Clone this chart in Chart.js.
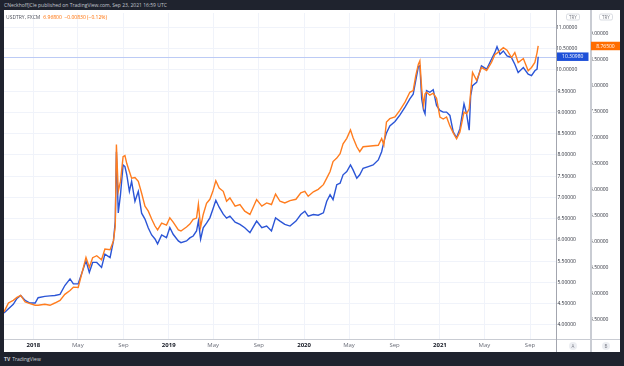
<!DOCTYPE html>
<html><head><meta charset="utf-8">
<script src="https://cdn.jsdelivr.net/npm/chart.js@4/dist/chart.umd.min.js"></script>
<style>
html,body{margin:0;padding:0;background:#1f232e;width:624px;height:366px;overflow:hidden;font-family:"Open Sans",Lato,sans-serif;}
#hdr{position:absolute;left:4px;top:1px;font-size:5px;color:#c3c6ce;line-height:8px;white-space:nowrap;}
#panel{position:absolute;left:4px;top:10px;width:616px;height:342px;background:#fff;}
#wrap{position:absolute;left:0;top:0;width:616px;height:342px;}
#legend{position:absolute;left:2px;top:4px;font-size:5px;color:#50535e;white-space:nowrap;line-height:6px;}
#legend span{color:#ff6d00;margin-left:3px;}
#foot{position:absolute;left:4px;top:356px;font-size:5px;color:#d1d4dc;line-height:7px;white-space:nowrap;}
#foot b{font-weight:bold;margin-right:2px;}
</style></head>
<body>
<div id="hdr">CNeckhoffJCle published on TradingView.com, Sep 23, 2021 16:59 UTC</div>
<div id="panel"><div id="wrap"><canvas id="c" width="616" height="342"></canvas></div>
<div id="legend">USDTRY, FXCM<span>6.96800 &nbsp;−0.00830 (−0.12%)</span></div></div>
<div id="foot"><b>TV</b>TradingView</div>
<script>
const dates = [
'2017-10-14','2017-10-26','2017-11-08','2017-11-18','2017-11-28','2017-12-10','2017-12-23','2018-01-06','2018-01-14','2018-02-01',
'2018-02-15','2018-02-28','2018-03-14','2018-03-27','2018-04-10','2018-04-19','2018-05-02','2018-05-11','2018-05-23','2018-06-01',
'2018-06-10','2018-06-21','2018-07-04','2018-07-13','2018-07-27','2018-08-05','2018-08-10','2018-08-13','2018-08-18','2018-08-24',
'2018-08-31','2018-09-05','2018-09-10','2018-09-17','2018-09-23','2018-10-02','2018-10-11','2018-10-20','2018-10-29','2018-11-07',
'2018-11-16','2018-11-25','2018-12-02','2018-12-13','2018-12-26','2019-01-04','2019-01-13','2019-01-27','2019-02-03','2019-02-18',
'2019-02-27','2019-03-08','2019-03-17','2019-03-22','2019-03-28','2019-04-04','2019-04-13','2019-04-22','2019-04-30','2019-05-08',
'2019-05-17','2019-05-28','2019-06-06','2019-06-15','2019-06-29','2019-07-12','2019-07-25','2019-08-08','2019-08-26','2019-09-09',
'2019-09-22','2019-10-05','2019-10-16','2019-10-28','2019-11-10','2019-11-24','2019-12-10','2019-12-23','2020-01-03','2020-01-12',
'2020-01-26','2020-02-08','2020-02-22','2020-03-02','2020-03-11','2020-03-19','2020-03-29','2020-04-07','2020-04-15','2020-04-25',
'2020-05-05','2020-05-12','2020-05-22','2020-05-30','2020-06-08','2020-06-22','2020-07-05','2020-07-19','2020-07-28','2020-08-03',
'2020-08-10','2020-08-19','2020-09-02','2020-09-15','2020-09-29','2020-10-12','2020-10-21','2020-10-28','2020-11-04','2020-11-08',
'2020-11-13','2020-11-18','2020-11-22','2020-11-26','2020-12-05','2020-12-14','2020-12-23','2021-01-01','2021-01-10','2021-01-19',
'2021-01-28','2021-02-06','2021-02-15','2021-02-24','2021-03-07','2021-03-14','2021-03-21','2021-03-25','2021-03-30','2021-04-10',
'2021-04-23','2021-05-07','2021-05-20','2021-05-29','2021-06-04','2021-06-12','2021-06-21','2021-07-01','2021-07-13','2021-07-22',
'2021-07-31','2021-08-14','2021-08-27','2021-09-05','2021-09-14','2021-09-20','2021-09-23'];

// blue series, scale A
const seriesA = [
4.280,4.377,4.482,4.622,4.692,4.576,4.513,4.513,4.639,4.669,
4.681,4.692,4.716,4.925,5.082,4.965,4.965,5.198,5.508,5.236,
5.469,5.469,5.352,5.665,5.585,5.975,6.441,8.073,6.635,7.064,
7.763,7.724,7.530,7.141,7.374,6.907,7.141,6.628,6.488,6.278,
6.115,6.021,5.905,6.115,6.052,6.290,6.131,5.975,5.935,5.975,
6.045,6.091,6.208,6.441,6.014,6.285,6.394,6.518,6.721,6.931,
6.768,6.604,6.511,6.558,6.418,6.364,6.285,6.168,6.441,6.285,
6.324,6.208,6.518,6.441,6.364,6.324,6.441,6.597,6.674,6.558,
6.597,6.581,6.635,6.907,7.064,6.947,7.297,7.334,7.530,7.607,
7.763,7.647,7.451,7.530,7.684,7.724,7.763,7.880,8.073,8.307,
8.516,8.680,8.785,8.936,9.123,9.316,9.426,9.752,10.079,10.095,
9.316,9.053,8.966,9.512,9.472,9.531,9.162,9.046,9.006,9.006,
8.929,8.540,8.400,8.617,9.200,8.966,8.579,9.395,9.629,9.706,
10.095,10.016,10.249,10.405,10.545,10.366,10.445,10.328,10.289,10.132,
9.939,10.055,9.899,9.862,9.978,10.016,10.3098];

// orange series, scale B
const seriesB = [
3.645,3.817,3.868,3.926,3.964,3.836,3.805,3.773,3.773,3.792,
3.773,3.817,3.868,3.983,4.059,4.122,4.116,4.364,4.694,4.504,
4.689,4.727,4.651,4.855,4.841,5.013,5.299,6.869,5.967,6.158,
6.635,6.654,6.501,6.348,6.221,6.234,6.158,5.929,5.681,5.585,
5.433,5.299,5.223,5.356,5.318,5.457,5.375,5.223,5.204,5.280,
5.337,5.427,5.452,5.719,5.280,5.522,5.738,5.814,5.967,6.171,
6.030,5.967,5.776,5.839,5.681,5.713,5.585,5.522,5.808,5.681,
5.744,5.713,5.915,5.776,5.744,5.789,5.814,5.938,5.967,5.871,
5.957,6.005,6.095,6.221,6.348,6.539,6.606,6.692,6.882,6.987,
7.150,6.997,6.825,6.730,6.825,6.835,6.844,6.854,6.984,6.858,
7.302,7.365,7.398,7.525,7.684,7.874,7.907,8.193,8.414,8.479,
7.937,7.621,7.842,7.874,7.817,7.855,7.760,7.398,7.359,7.398,
7.226,7.092,6.978,7.111,7.493,7.461,7.556,7.874,8.256,8.103,
8.351,8.294,8.447,8.599,8.628,8.676,8.733,8.685,8.542,8.638,
8.447,8.523,8.288,8.351,8.447,8.638,8.765];

const tickDates = ['2018-01-01','2018-05-01','2018-09-01','2019-01-01','2019-05-01','2019-09-01',
                   '2020-01-01','2020-05-01','2020-09-01','2021-01-01','2021-05-01','2021-09-01'];
const tickLabels = ['2018','May','Sep','2019','May','Sep','2020','May','Sep','2021','May','Sep'];
const ticksA = [4.0,4.5,5.0,5.5,6.0,6.5,7.0,7.5,8.0,8.5,9.0,9.5,10.0,10.5,11.0];
const ticksB = [3.5,4.0,4.5,5.0,5.5,6.0,6.5,7.0,7.5,8.0,8.5,9.0];

const day = s => (Date.parse(s + 'T00:00:00Z') - Date.UTC(2018,0,1)) / 864e5;
const FONT = '"Open Sans", Lato, sans-serif';

function box(ctx, x1, x2, yc, h, fill, text, color, size, stroke, r) {
  ctx.beginPath();
  if (ctx.roundRect) ctx.roundRect(x1, yc - h/2, x2 - x1, h, r || 0); else ctx.rect(x1, yc - h/2, x2 - x1, h);
  if (fill) { ctx.fillStyle = fill; ctx.fill(); }
  if (stroke) { ctx.strokeStyle = stroke; ctx.lineWidth = 0.8; ctx.stroke(); }
  ctx.fillStyle = color; ctx.font = size + 'px ' + FONT;
  ctx.textAlign = 'center'; ctx.textBaseline = 'middle';
  ctx.fillText(text, (x1 + x2) / 2, yc + 0.3);
}

const overlay = {
  id: 'overlay',
  beforeDatasetsDraw(chart) {
    const {ctx, chartArea: ca, scales} = chart;
    const y = Math.round(scales.a.getPixelForValue(seriesA[seriesA.length - 1])) + 0.5;
    ctx.save();
    ctx.strokeStyle = '#bccbf5'; ctx.lineWidth = 1;
    ctx.beginPath(); ctx.moveTo(ca.left, y); ctx.lineTo(ca.right, y); ctx.stroke();
    ctx.restore();
  },
  afterDraw(chart) {
    const {ctx, chartArea: ca, scales, width, height} = chart;
    const A = scales.a, B = scales.b;
    ctx.save();
    ctx.fillStyle = '#c9ccd3'; ctx.fillRect(0, Math.round(ca.bottom), width, 1);
    ctx.fillStyle = '#a3a6af'; ctx.fillRect(Math.round(A.left), 0, 1, height);
    ctx.fillStyle = '#c9ccd3'; ctx.fillRect(Math.round(B.left), 0, 2, height);
    // TRY currency boxes
    box(ctx, (A.left + A.right)/2 - 6.5, (A.left + A.right)/2 + 6.5, 7, 6, '#ffffff', 'TRY', '#787b86', 4.5, '#d1d4dc', 1.5);
    box(ctx, (B.left + B.right)/2 - 6.5 + 1, (B.left + B.right)/2 + 6.5 + 1, 7, 6, '#ffffff', 'TRY', '#787b86', 4.5, '#d1d4dc', 1.5);
    // last value labels
    const lastA = seriesA[seriesA.length - 1], lastB = seriesB[seriesB.length - 1];
    box(ctx, A.left + 1, A.right - 1.5, A.getPixelForValue(lastA), 8.5, '#1e50d8', lastA.toFixed(5), '#ffffff', 5);
    box(ctx, B.left + 1, B.right, B.getPixelForValue(lastB), 8.5, '#ff6d00', lastB.toFixed(5), '#ffffff', 5);
    // A / B buttons
    const yb = ca.bottom + 7;
    [[A, 'A'], [B, 'B']].forEach(([s, t], i) => {
      const cx = (s.left + s.right) / 2 + (i ? 1 : 0);
      ctx.beginPath(); ctx.arc(cx, yb, 4, 0, Math.PI * 2); ctx.fillStyle = '#eceef2'; ctx.fill();
      ctx.fillStyle = '#787b86'; ctx.font = '4.5px ' + FONT; ctx.textAlign = 'center'; ctx.textBaseline = 'middle';
      ctx.fillText(t, cx, yb + 0.3);
    });
    ctx.restore();
  }
};

new Chart(document.getElementById('c'), {
  type: 'line',
  data: {
    datasets: [
      { label: 'B', data: dates.map((d, i) => ({x: day(d), y: seriesB[i]})), yAxisID: 'b',
        borderColor: '#ff7d1f', borderWidth: 1.4, pointRadius: 0, tension: 0, order: 0 },
      { label: 'A', data: dates.map((d, i) => ({x: day(d), y: seriesA[i]})), yAxisID: 'a',
        borderColor: '#2b55d6', borderWidth: 1.4, pointRadius: 0, tension: 0, order: 1 }
    ]
  },
  options: {
    responsive: false, animation: false, events: [],
    layout: { padding: 0 },
    plugins: { legend: { display: false }, tooltip: { enabled: false } },
    scales: {
      x: {
        type: 'linear', position: 'bottom', min: day('2017-10-14'), max: day('2021-11-10'),
        afterBuildTicks: s => { s.ticks = tickDates.map(d => ({value: day(d)})); },
        afterFit: s => { s.height = 13; },
        grid: { color: '#f0f3fa', drawTicks: false },
        border: { display: false },
        ticks: {
          autoSkip: false, maxRotation: 0, padding: 3,
          callback: (v, i) => tickLabels[i],
          color: c => /^\d/.test(tickLabels[c.index]) ? '#131722' : '#6a6d78',
          font: c => ({ size: 6, family: FONT, weight: /^\d/.test(tickLabels[c.index]) ? 'bold' : 'normal' })
        }
      },
      a: {
        position: 'right', weight: 0, min: 3.667, max: 11.338,
        afterBuildTicks: s => { s.ticks = ticksA.map(v => ({value: v})); },
        afterFit: s => { s.width = 34; },
        grid: { color: '#f0f3fa', drawTicks: false },
        border: { display: false },
        ticks: { padding: 0, crossAlign: 'center', color: '#2a2e39', font: { size: 5, family: FONT },
                 callback: v => v.toFixed(5) }
      },
      b: {
        position: 'right', weight: 1, min: 3.124, max: 9.40,
        afterBuildTicks: s => { s.ticks = ticksB.map(v => ({value: v})); },
        afterFit: s => { s.width = 30; },
        grid: { display: false, drawTicks: false },
        border: { display: false },
        ticks: { padding: 0, crossAlign: 'center', color: '#2a2e39', font: { size: 5, family: FONT },
                 callback: v => v.toFixed(5) }
      }
    }
  },
  plugins: [overlay]
});
</script>
</body></html>
